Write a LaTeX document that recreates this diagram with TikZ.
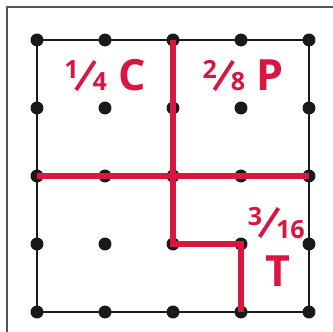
\documentclass[tikz,border=0pt]{standalone}
\usepackage{fontspec}
\setsansfont{Open Sans}
\usetikzlibrary{positioning}
\definecolor{cutred}{RGB}{216,22,64}
\definecolor{framegray}{RGB}{85,85,85}
% small fraction: raised numerator, thin slanted bar, denominator on the baseline
\newcommand{\gridfrac}[2]{%
  \raisebox{0.3em}{\fontsize{10.5}{10.5}\selectfont #1}%
  \kern-0.1em\rotatebox{57}{\rule{0.8em}{0.09em}}\kern-0.09em%
  {\fontsize{10.5}{10.5}\selectfont #2}}
\tikzset{
  dot/.style={circle, fill=black!90, inner sep=0pt, minimum size=0.19cm},
  edge/.style={line width=1pt, draw=black!90},
  cut/.style={line width=2.2pt, draw=cutred},
  lbl/.style={font=\sffamily\bfseries\fontsize{18}{18}\selectfont, text=cutred,
              inner sep=0pt, anchor=base},
}

\begin{document}
\begin{tikzpicture}
      \useasboundingbox (-0.544,-0.294) rectangle (4.353,4.588);
      \clip (-0.544,-0.294) rectangle (4.353,4.588);
      % outer frame, cut off on the right and at the bottom
      \draw[framegray, line width=0.85pt] (-0.441,-1) rectangle (5,4.485);
      % 5x5 geoboard pegs
      \foreach \i in {0,...,4}
        \foreach \j in {0,...,4}
          \node[dot] (d-\i-\j) at (\i,\j) {};
      \draw[edge] (d-0-0.center) rectangle (d-4-4.center);
      % the three cuts
      \draw[cut] (d-0-2.center) -- (d-4-2.center);
      \draw[cut] (d-2-4.center) -- (d-2-1.center) -- (d-3-1.center) -- (d-3-0.center);
      % shares
      \node[lbl] (c) at (1.0,3.25) {\gridfrac{1}{4} C};
      \node[lbl] (p) at (3.03,3.25) {\gridfrac{2}{8} P};
      \node[lbl] (tfrac) at (3.52,1.088) {\gridfrac{3}{16}};
      \node[lbl] (t) at (3.55,0.368) {T};
\end{tikzpicture}
\end{document}
